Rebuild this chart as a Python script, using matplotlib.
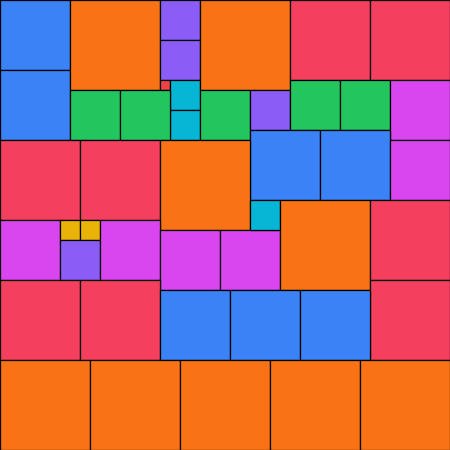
import matplotlib.pyplot as plt
from matplotlib.patches import Rectangle

# partridge tiling: n squares of side n fill a 45 x 45 square
SIDE = 45
sizes = [7, 7, 9, 4, 4, 1, 3, 3, 5, 5,
         9, 5, 4, 8, 8, 5, 5, 6, 7, 7,
         6, 8, 8, 9, 6, 2, 2, 4, 6, 6,
         6, 3, 9, 8, 8, 8, 8, 7, 7, 7,
         9, 9, 9, 9, 9]
xs = [0, 0, 7, 16, 16, 16, 17, 17, 7, 12,
      20, 20, 25, 29, 37, 29, 34, 39, 25, 32,
      39, 0, 8, 16, 0, 6, 8, 6, 10, 16,
      22, 25, 28, 37, 37, 0, 8, 16, 23, 30,
      0, 9, 18, 27, 36]
ys = [0, 7, 0, 0, 4, 8, 8, 11, 9, 9,
      0, 9, 9, 0, 0, 8, 8, 8, 13, 13,
      14, 14, 14, 14, 22, 22, 22, 24, 22, 23,
      23, 20, 20, 20, 28, 28, 28, 29, 29, 29,
      36, 36, 36, 36, 36]
colors = {1: '#ef4444', 2: '#eab308', 3: '#06b6d4', 4: '#8b5cf6', 5: '#22c55e',
          6: '#d946ef', 7: '#3b82f6', 8: '#f43f5e', 9: '#f97316'}

fig = plt.figure(figsize=(4.5, 4.5), dpi=100)
ax = fig.add_axes([0, 0, 1, 1])
for s, x, y in zip(sizes, xs, ys):
    ax.add_patch(Rectangle((x, y), s, s, facecolor=colors[s],
                           edgecolor='black', linewidth=0.9))
ax.set_xlim(0, SIDE)
ax.set_ylim(SIDE, 0)
ax.axis('off')
fig.savefig('out.png', dpi=100)
